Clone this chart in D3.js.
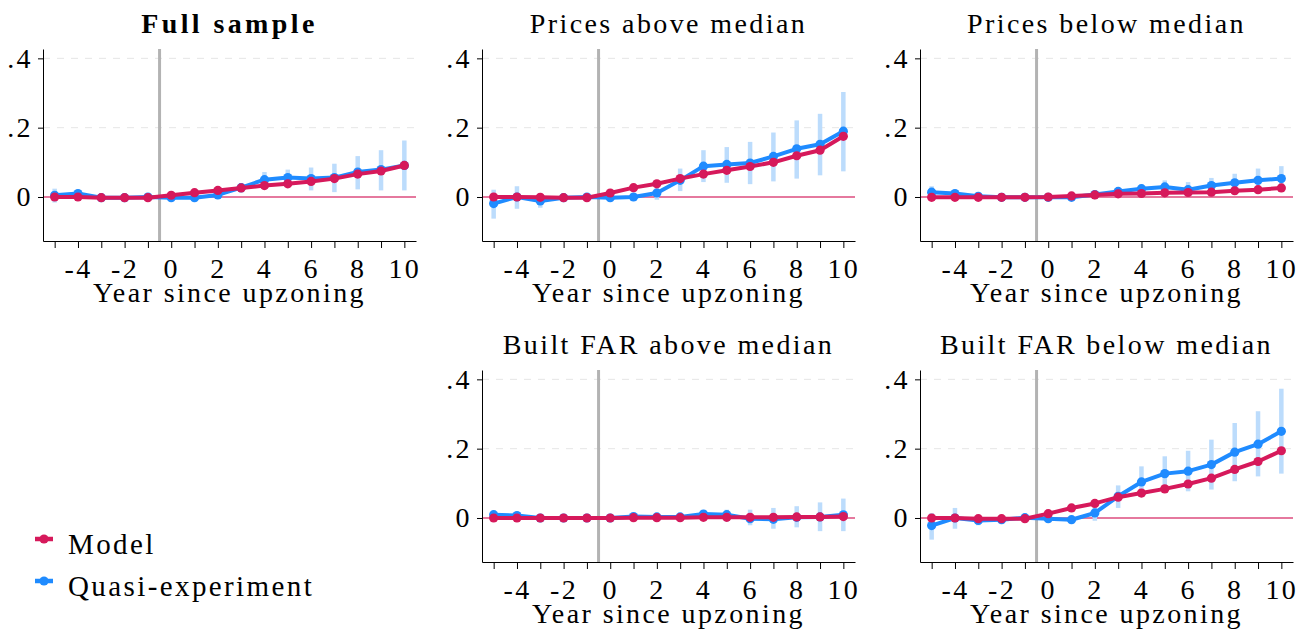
<!DOCTYPE html>
<html>
<head>
<meta charset="utf-8">
<script src="https://cdn.jsdelivr.net/npm/d3@7"></script>
<style>
    body { margin: 0; background: #fff; }
    svg { display: block; font-family: "Liberation Serif", "DejaVu Serif", serif; }
    svg text { letter-spacing: 2.4px; }
    .axis path, .axis line { stroke: #000; stroke-width: 1; }
    .axis text { font-size: 28px; fill: #000; font-family: "Liberation Serif", serif; }
</style>
</head>
<body>
<div id="chart"></div>
<script>
var years = [-5, -4, -3, -2, -1, 0, 1, 2, 3, 4, 5, 6, 7, 8, 9, 10];
var yTicks = [0, 0.2, 0.4];
var yTickLabels = ["0", ".2", ".4"];
var titles = ["Full sample", "Prices above median", "Prices below median", "Built FAR above median", "Built FAR below median"];
var xLabel = "Year since upzoning";
var legendLabels = ["Model", "Quasi-experiment"];

// Full sample
var fullModel = [0, 0, -0.002, -0.002, -0.002, 0.005, 0.0125, 0.019, 0.026, 0.033, 0.038, 0.045, 0.053, 0.066, 0.075, 0.091];
var fullQuasi = [0.005, 0.01, -0.002, -0.002, 0, -0.002, -0.002, 0.006, 0.027, 0.05, 0.056, 0.053, 0.056, 0.072, 0.079, 0.091];
var fullLo = [-0.016, -0.003, -0.006, -0.005, -0.003, -0.008, -0.009, -0.003, 0.012, 0.029, 0.031, 0.019, 0.014, 0.022, 0.019, 0.019];
var fullHi = [0.024, 0.02, 0.002, 0.001, 0.003, 0.004, 0.005, 0.015, 0.04, 0.072, 0.079, 0.085, 0.096, 0.118, 0.135, 0.163];

// Prices above median
var priceHiModel = [0, 0, -0.001, -0.002, -0.002, 0.0115, 0.027, 0.038, 0.053, 0.066, 0.077, 0.088, 0.1, 0.119, 0.135, 0.175];
var priceHiQuasi = [-0.019, 0, -0.0115, -0.002, 0, -0.002, 0, 0.0115, 0.048, 0.089, 0.094, 0.098, 0.117, 0.139, 0.152, 0.19];
var priceHiLo = [-0.0625, -0.034, -0.031, -0.01, -0.008, -0.008, -0.008, -0.008, 0.017, 0.043, 0.041, 0.037, 0.045, 0.053, 0.0625, 0.074];
var priceHiHi = [0.021, 0.031, 0.005, 0.007, 0.005, 0.005, 0.007, 0.026, 0.082, 0.135, 0.144, 0.159, 0.186, 0.221, 0.24, 0.303];

// Prices below median
var priceLoModel = [-0.001, -0.001, -0.001, -0.001, -0.001, 0, 0.003, 0.006, 0.009, 0.01, 0.012, 0.013, 0.014, 0.018, 0.021, 0.026];
var priceLoQuasi = [0.014, 0.01, 0.002, -0.001, -0.001, -0.001, -0.001, 0.007, 0.016, 0.024, 0.029, 0.021, 0.033, 0.041, 0.048, 0.053];
var priceLoLo = [-0.002, 0.002, -0.003, -0.004, -0.003, -0.004, -0.005, 0, 0.006, 0.013, 0.01, 0.005, 0.012, 0.019, 0.021, 0.019];
var priceLoHi = [0.031, 0.018, 0.007, 0.002, 0.002, 0.002, 0.003, 0.014, 0.025, 0.035, 0.048, 0.043, 0.055, 0.067, 0.082, 0.089];

// Built FAR above median
var farHiModel = [0, 0, 0, 0, 0, 0, 0.001, 0.001, 0.001, 0.002, 0.002, 0.002, 0.002, 0.003, 0.003, 0.004];
var farHiQuasi = [0.0096, 0.007, 0, 0, 0, 0, 0.004, 0.003, 0.003, 0.0115, 0.0096, -0.002, -0.004, 0.002, 0.003, 0.009];
var farHiLo = [0, -0.001, -0.003, -0.003, -0.003, -0.003, -0.002, -0.003, -0.003, 0.002, -0.01, -0.021, -0.031, -0.027, -0.038, -0.038];
var farHiHi = [0.018, 0.014, 0.003, 0.003, 0.003, 0.003, 0.008, 0.009, 0.009, 0.02, 0.024, 0.024, 0.029, 0.034, 0.045, 0.056];

// Built FAR below median
var farLoModel = [0, 0, -0.002, -0.002, -0.002, 0.0125, 0.029, 0.042, 0.06, 0.072, 0.084, 0.098, 0.115, 0.14, 0.163, 0.194];
var farLoQuasi = [-0.022, 0, -0.007, -0.005, 0.001, -0.002, -0.005, 0.0145, 0.0625, 0.104, 0.128, 0.135, 0.154, 0.19, 0.213, 0.25];
var farLoLo = [-0.0625, -0.031, -0.021, -0.012, -0.004, -0.008, -0.01, -0.008, 0.029, 0.067, 0.077, 0.077, 0.082, 0.106, 0.12, 0.128];
var farLoHi = [0.0144, 0.029, 0.005, 0.002, 0.006, 0.004, 0, 0.034, 0.094, 0.149, 0.178, 0.194, 0.226, 0.274, 0.308, 0.373];

var panels = [
    {title: titles[0], bold: true, model: fullModel, quasi: fullQuasi, lo: fullLo, hi: fullHi, left: 43, top: 49},
    {title: titles[1], model: priceHiModel, quasi: priceHiQuasi, lo: priceHiLo, hi: priceHiHi, left: 482, top: 49},
    {title: titles[2], model: priceLoModel, quasi: priceLoQuasi, lo: priceLoLo, hi: priceLoHi, left: 920, top: 49},
    {title: titles[3], model: farHiModel, quasi: farHiQuasi, lo: farHiLo, hi: farHiHi, left: 482, top: 370},
    {title: titles[4], model: farLoModel, quasi: farLoQuasi, lo: farLoLo, hi: farLoHi, left: 920, top: 370}
];

var colors = {model: "#d6195b", quasi: "#1f8bff", ci: "#bcdcfc", zero: "#dc4d7e", vline: "#b3b3b3", grid: "#e6e6e6"};

var width = 1309, height = 636,
    plotW = 373, plotH = 192;

var svg = d3.select("#chart").append("svg")
    .attr("width", width)
    .attr("height", height);

panels.forEach(function (p) {
    var x = d3.scaleLinear().domain([-5.5, 10.5]).range([0, plotW]);
    var y = d3.scaleLinear().domain([-0.127, 0.427]).range([plotH, 0]);

    var g = svg.append("g").attr("transform", "translate(" + p.left + "," + p.top + ")");

    // title
    g.append("text")
        .attr("x", plotW / 2)
        .attr("y", -16)
        .attr("text-anchor", "middle")
        .style("font-size", "28px")
        .style("font-weight", p.bold ? "bold" : "normal")
        .style("letter-spacing", p.bold ? "3.4px" : null)
        .text(p.title);

    // grid
    g.selectAll("line.grid").data([0.2, 0.4]).enter().append("line")
        .attr("class", "grid")
        .attr("x1", 0).attr("x2", plotW)
        .attr("y1", function (d) { return y(d); })
        .attr("y2", function (d) { return y(d); })
        .attr("stroke", colors.grid)
        .attr("stroke-width", 1)
        .attr("stroke-dasharray", "7,7");

    // zero line
    g.append("line")
        .attr("x1", 0).attr("x2", plotW)
        .attr("y1", y(0)).attr("y2", y(0))
        .attr("stroke", colors.zero)
        .attr("stroke-width", 1.5);

    // event line
    g.append("line")
        .attr("x1", x(-0.5)).attr("x2", x(-0.5))
        .attr("y1", 0).attr("y2", plotH)
        .attr("stroke", colors.vline)
        .attr("stroke-width", 3);

    // CI bars
    g.selectAll("line.ci").data(years).enter().append("line")
        .attr("class", "ci")
        .attr("x1", function (d) { return x(d); })
        .attr("x2", function (d) { return x(d); })
        .attr("y1", function (d, i) { return y(p.lo[i]); })
        .attr("y2", function (d, i) { return y(p.hi[i]); })
        .attr("stroke", colors.ci)
        .attr("stroke-width", 4.5);

    var line = d3.line()
        .x(function (d) { return x(d[0]); })
        .y(function (d) { return y(d[1]); });

    [["quasi", p.quasi], ["model", p.model]].forEach(function (s) {
        var pts = years.map(function (yr, i) { return [yr, s[1][i]]; });
        g.append("path")
            .attr("d", line(pts))
            .attr("fill", "none")
            .attr("stroke", colors[s[0]])
            .attr("stroke-width", 4)
            .attr("stroke-linejoin", "round");
        g.selectAll("circle." + s[0]).data(pts).enter().append("circle")
            .attr("class", s[0])
            .attr("cx", function (d) { return x(d[0]); })
            .attr("cy", function (d) { return y(d[1]); })
            .attr("r", 4.6)
            .attr("fill", colors[s[0]]);
    });

    // axes
    var xAxis = d3.axisBottom(x)
        .tickValues(years)
        .tickSize(7)
        .tickSizeOuter(0)
        .tickPadding(10)
        .tickFormat(function (d) { return d % 2 === 0 ? d : ""; });
    var xg = g.append("g")
        .attr("class", "x axis")
        .attr("transform", "translate(0," + plotH + ")")
        .call(xAxis);
    // drop the empty labels of odd years
    xg.selectAll(".tick text").filter(function (d) { return d % 2 !== 0; }).remove();

    var yAxis = d3.axisLeft(y)
        .tickValues(yTicks)
        .tickSize(5)
        .tickSizeOuter(0)
        .tickPadding(5)
        .tickFormat(function (d, i) { return yTickLabels[i]; });
    g.append("g")
        .attr("class", "y axis")
        .call(yAxis);

    g.append("text")
        .attr("x", plotW / 2)
        .attr("y", plotH + 61)
        .attr("text-anchor", "middle")
        .style("font-size", "28px")
        .text(xLabel);
});

// legend
var legend = svg.append("g").attr("transform", "translate(35,0)");
[["model", 539], ["quasi", 581]].forEach(function (s, i) {
    legend.append("line")
        .attr("x1", 0).attr("x2", 18)
        .attr("y1", s[1]).attr("y2", s[1])
        .attr("stroke", colors[s[0]])
        .attr("stroke-width", 4.5);
    legend.append("circle")
        .attr("cx", 9).attr("cy", s[1]).attr("r", 4.6)
        .attr("fill", colors[s[0]]);
    legend.append("text")
        .attr("x", 33)
        .attr("y", s[1] + 15)
        .style("font-size", "29px")
        .text(legendLabels[i]);
});
</script>
</body>
</html>
